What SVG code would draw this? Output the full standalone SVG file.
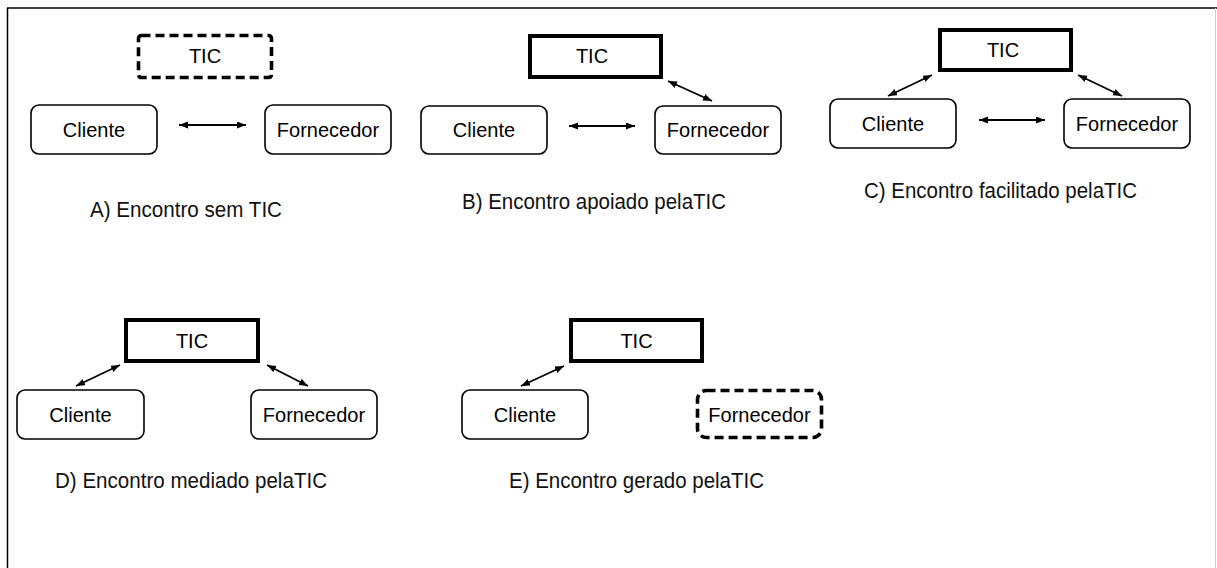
<svg xmlns="http://www.w3.org/2000/svg" width="1217" height="568" viewBox="0 0 1217 568">
<style>
.bg{fill:#fff}
.node{fill:#fff;stroke:#000;stroke-width:1.6}
.tic{fill:#fff;stroke:#000;stroke-width:4}
.dash{fill:#fff;stroke:#000;stroke-width:3.6;stroke-dasharray:9 5}
.t{font-family:"Liberation Sans",Arial,sans-serif;font-size:20px;fill:#000;text-anchor:middle}
.lbl{font-family:"Liberation Sans",Arial,sans-serif;font-size:22px;fill:#111}
.conn{stroke:#000;stroke-width:1.9;fill:none;marker-start:url(#ah);marker-end:url(#ah)}
</style>
<defs>
<marker id="ah" markerUnits="userSpaceOnUse" markerWidth="10" markerHeight="8" refX="9" refY="3.5" orient="auto-start-reverse">
<path d="M0,0 L9,3.5 L0,7 z" fill="#000"/>
</marker>
</defs>
<rect class="bg" x="0" y="0" width="1217" height="568"/>
<g id="frame">
<line x1="7" y1="8" x2="1217" y2="8" stroke="#000" stroke-width="1.5"/>
<line x1="7.5" y1="8" x2="7.5" y2="568" stroke="#000" stroke-width="1.5"/>
<line x1="1215.5" y1="8" x2="1215.5" y2="568" stroke="#ccc" stroke-width="1"/>
</g>

<g id="connectors">
<line class="conn" x1="179" y1="125" x2="246" y2="125"/>
<line class="conn" x1="569" y1="126" x2="635" y2="126"/>
<line class="conn" x1="668" y1="81" x2="712" y2="101"/>
<line class="conn" x1="979" y1="120" x2="1045" y2="120"/>
<line class="conn" x1="932" y1="75" x2="888" y2="96"/>
<line class="conn" x1="1078" y1="75" x2="1122" y2="96"/>
<line class="conn" x1="120" y1="365" x2="76" y2="386"/>
<line class="conn" x1="267" y1="365" x2="308" y2="386"/>
<line class="conn" x1="564" y1="366" x2="521" y2="386"/>
</g>

<!-- A -->
<g id="A-tic"><rect class="dash" x="138.5" y="35.5" width="133" height="42" rx="3"/><text class="t" x="205" y="63">TIC</text></g>
<g id="A-cliente"><rect class="node" x="31" y="105" width="126" height="49" rx="8"/><text class="t" x="94" y="137">Cliente</text></g>
<g id="A-fornecedor"><rect class="node" x="265" y="105" width="126" height="49" rx="8"/><text class="t" x="328" y="137">Fornecedor</text></g>
<g id="A-label"><text class="lbl" x="90" y="217" textLength="192" lengthAdjust="spacingAndGlyphs">A) Encontro sem TIC</text></g>

<!-- B -->
<g id="B-tic"><rect class="tic" x="530" y="36" width="131" height="41"/><text class="t" x="592" y="63">TIC</text></g>
<g id="B-cliente"><rect class="node" x="421" y="106" width="126" height="48" rx="8"/><text class="t" x="484" y="137">Cliente</text></g>
<g id="B-fornecedor"><rect class="node" x="655" y="106" width="126" height="48" rx="8"/><text class="t" x="718" y="137">Fornecedor</text></g>
<g id="B-label"><text class="lbl" x="462" y="209" textLength="264" lengthAdjust="spacingAndGlyphs">B) Encontro apoiado pelaTIC</text></g>

<!-- C -->
<g id="C-tic"><rect class="tic" x="940" y="30" width="131" height="40"/><text class="t" x="1003" y="57">TIC</text></g>
<g id="C-cliente"><rect class="node" x="830" y="99" width="126" height="49" rx="8"/><text class="t" x="893" y="131">Cliente</text></g>
<g id="C-fornecedor"><rect class="node" x="1064" y="99" width="126" height="49" rx="8"/><text class="t" x="1127" y="131">Fornecedor</text></g>
<g id="C-label"><text class="lbl" x="864" y="197.5" textLength="273" lengthAdjust="spacingAndGlyphs">C) Encontro facilitado pelaTIC</text></g>

<!-- D -->
<g id="D-tic"><rect class="tic" x="126" y="320" width="132" height="41"/><text class="t" x="192" y="347.5">TIC</text></g>
<g id="D-cliente"><rect class="node" x="17" y="390" width="127" height="49" rx="8"/><text class="t" x="80.5" y="422">Cliente</text></g>
<g id="D-fornecedor"><rect class="node" x="251" y="390" width="126" height="49" rx="8"/><text class="t" x="314" y="422">Fornecedor</text></g>
<g id="D-label"><text class="lbl" x="55" y="488" textLength="272" lengthAdjust="spacingAndGlyphs">D) Encontro mediado pelaTIC</text></g>

<!-- E -->
<g id="E-tic"><rect class="tic" x="571" y="320" width="131" height="41"/><text class="t" x="636.5" y="347.5">TIC</text></g>
<g id="E-cliente"><rect class="node" x="462" y="390" width="126" height="49" rx="8"/><text class="t" x="525" y="422">Cliente</text></g>
<g id="E-fornecedor"><rect class="dash" x="697.5" y="390.5" width="124" height="47" rx="9"/><text class="t" x="759.5" y="422">Fornecedor</text></g>
<g id="E-label"><text class="lbl" x="509" y="488" textLength="255" lengthAdjust="spacingAndGlyphs">E) Encontro gerado pelaTIC</text></g>
</svg>
